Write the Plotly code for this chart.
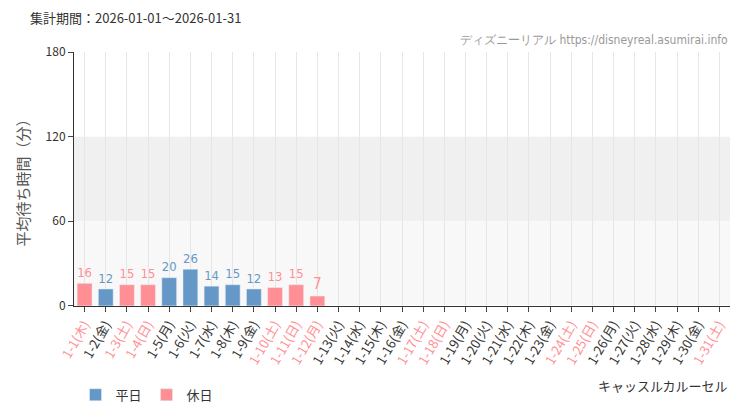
import plotly.graph_objects as go

days = [f'1-{d}' for d in range(1, 32)]
weekdays = ['木', '金', '土', '日', '月', '火', '水']
labels = [f'{d}({weekdays[i % 7]})' for i, d in enumerate(days)]
holidays = ['1-1', '1-3', '1-4', '1-10', '1-11', '1-12', '1-17', '1-18', '1-24', '1-25', '1-31']
waits = [16, 12, 15, 15, 20, 26, 14, 15, 12, 13, 15, 7] + [None] * 19

BLUE = '#6598c6'
RED = '#ff8f94'
cond = 'DejaVu Sans Condensed, Liberation Sans Narrow, sans-serif'

wk_y = [w if d not in holidays else None for d, w in zip(days, waits)]
hd_y = [w if d in holidays else None for d, w in zip(days, waits)]

fig = go.Figure()
fig.add_trace(go.Bar(x=labels, y=wk_y, name='平日', marker_color=BLUE,
                     text=wk_y, textposition='outside', cliponaxis=False,
                     textfont=dict(color=BLUE, size=15, family=cond)))
fig.add_trace(go.Bar(x=labels, y=hd_y, name='休日', marker_color=RED,
                     text=hd_y, textposition='outside', cliponaxis=False,
                     textfont=dict(color=RED, size=15, family=cond)))

ticktext = [f'<span style="color:{RED if d in holidays else "#333"}">{l}</span>'
            for d, l in zip(days, labels)]

fig.add_hrect(y0=60, y1=120, fillcolor='#f0f0f0', line_width=0, layer='below')
fig.add_hrect(y0=0, y1=60, fillcolor='#f8f8f8', line_width=0, layer='below')

fig.update_layout(
    width=750, height=410,
    barmode='overlay', bargap=0.3,
    plot_bgcolor='white', paper_bgcolor='white',
    font=dict(family='Noto Sans CJK JP, sans-serif', size=12, color='#333'),
    margin=dict(l=73, r=20, t=50, b=105),
    xaxis=dict(tickvals=labels, ticktext=ticktext, tickangle=-60,
               showgrid=True, gridcolor='#e6e6e6', ticks='outside', ticklen=5,
               showline=True, linecolor='#333', tickfont=dict(size=13)),
    yaxis=dict(range=[0, 180], tickvals=[0, 60, 120, 180], showgrid=False,
               ticks='outside', ticklen=5, showline=True, linecolor='#333',
               title=dict(text='平均待ち時間（分）', font=dict(size=15, color='#555'), standoff=12),
               tickfont=dict(size=12)),
    legend=dict(orientation='h', x=0.09, y=0.02, xref='container', yref='container',
                xanchor='left', yanchor='bottom', font=dict(size=13)),
    showlegend=True,
)
fig.update_layout(margin=dict(l=66, r=28, t=44, b=100))
fig.add_annotation(text='集計期間：2026-01-01～2026-01-31', xref='paper', yref='paper',
                   x=-0.07, y=1.09, xanchor='left', yanchor='bottom', showarrow=False,
                   font=dict(size=13, color='#333'))
fig.add_annotation(text='ディズニーリアル https://disneyreal.asumirai.info', xref='paper', yref='paper',
                   x=1, y=1.01, xanchor='right', yanchor='bottom', showarrow=False,
                   font=dict(size=12, color='#999', family=cond))
fig.add_annotation(text='キャッスルカルーセル', xref='paper', yref='paper',
                   x=1, y=-0.315, xanchor='right', yanchor='middle', showarrow=False,
                   font=dict(size=13, color='#333'))

fig.write_html('out.html')
